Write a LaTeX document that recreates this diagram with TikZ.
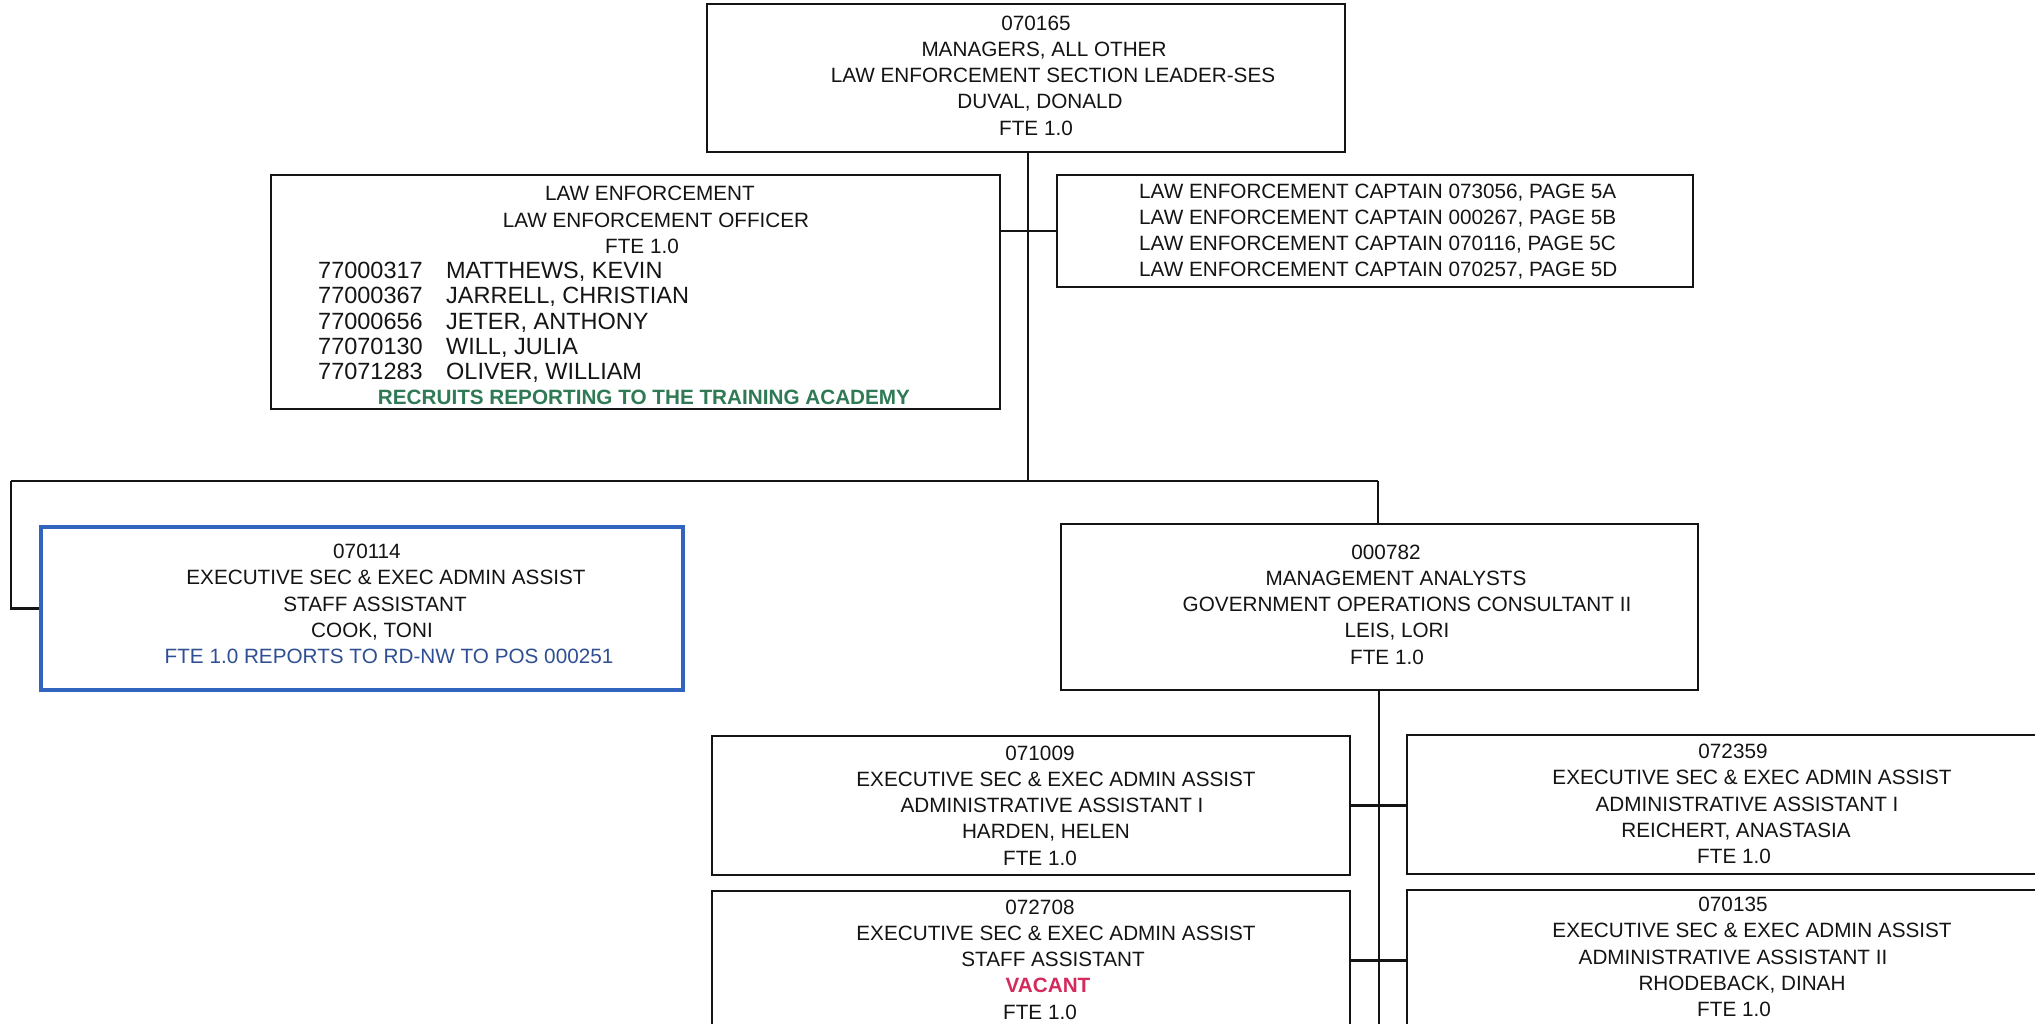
\documentclass[tikz,border=0pt]{standalone}
\usepackage{fontspec}
\setmainfont{Liberation Sans}

\definecolor{ink}{HTML}{141414}
\definecolor{boxblue}{HTML}{3064BE}
\definecolor{noteblue}{HTML}{2F4F93}
\definecolor{recruitgreen}{HTML}{2F7A55}
\definecolor{vacantred}{HTML}{D42A5C}

% nudge a centred line sideways (half the given amount)
\newcommand{\nudgeline}[1]{\hspace*{#1pt}}

\begin{document}
\begin{tikzpicture}[x=1pt,y=-1pt,
  posbox/.style={draw=ink, line width=2.3pt, inner sep=0pt},
  textblock/.style={inner sep=0pt, align=center, text=ink,
    font=\fontsize{20.7pt}{26.3pt}\selectfont},
  leftblock/.style={inner sep=0pt, align=left, anchor=west, text=ink,
    font=\fontsize{20.7pt}{26pt}\selectfont},
  link/.style={draw=ink, line width=2.2pt}]

\useasboundingbox (0,0) rectangle (2035,1024);
\fill[white] (0,0) rectangle (2035,1024);
\clip (0,0) rectangle (2035,1024);

% ---- section leader ----
\node[posbox, minimum width=638pt, minimum height=148pt] (top) at (1026,78) {};
\node[textblock] (top-t) at (1040,75.5)
  {\nudgeline{-8}070165\\ \nudgeline{8}MANAGERS, ALL OTHER\\
   \nudgeline{26}LAW ENFORCEMENT SECTION LEADER-SES\\ DUVAL, DONALD\\ \nudgeline{-8}FTE 1.0};

% ---- law enforcement officers ----
\node[posbox, minimum width=729pt, minimum height=234pt] (officer) at (635.5,292) {};
\node[textblock] (officer-head) at (650,220)
  {LAW ENFORCEMENT\\ \nudgeline{12}LAW ENFORCEMENT OFFICER\\ \nudgeline{-16}FTE 1.0};
\node[inner sep=0pt, align=left, anchor=west, text=ink,
      font=\fontsize{23.5pt}{25.25pt}\selectfont] (officer-names) at (318,322.5)
  {\makebox[128pt][l]{77000317}MATTHEWS, KEVIN\\
   \makebox[128pt][l]{77000367}JARRELL, CHRISTIAN\\
   \makebox[128pt][l]{77000656}JETER, ANTHONY\\
   \makebox[128pt][l]{77070130}WILL, JULIA\\
   \makebox[128pt][l]{77071283}OLIVER, WILLIAM};
\node[inner sep=0pt, text=recruitgreen,
      font=\fontsize{20.7pt}{26pt}\selectfont\bfseries] (officer-note) at (644,397)
  {RECRUITS REPORTING TO THE TRAINING ACADEMY};

% ---- captains ----
\node[posbox, minimum width=636pt, minimum height=112pt] (captain) at (1375,231) {};
\node[leftblock] (captain-t) at (1139,232)
  {LAW ENFORCEMENT CAPTAIN 073056, PAGE 5A\\
   LAW ENFORCEMENT CAPTAIN 000267, PAGE 5B\\
   LAW ENFORCEMENT CAPTAIN 070116, PAGE 5C\\
   LAW ENFORCEMENT CAPTAIN 070257, PAGE 5D};

% ---- staff assistant (reports elsewhere) ----
\node[posbox, draw=boxblue, line width=3.5pt, minimum width=642pt, minimum height=163pt]
  (pos070114) at (362,608.5) {};
\node[textblock] (pos070114-t) at (375,604)
  {\nudgeline{-16}070114\\ \nudgeline{22}EXECUTIVE SEC \& EXEC ADMIN ASSIST\\ STAFF ASSISTANT\\
   \nudgeline{-6}COOK, TONI\\ \nudgeline{28}\textcolor{noteblue}{FTE 1.0 REPORTS TO RD-NW TO POS 000251}};

% ---- management analyst ----
\node[posbox, minimum width=637pt, minimum height=166pt] (pos000782) at (1379.5,607) {};
\node[textblock] (pos000782-t) at (1396,604.5)
  {\nudgeline{-20}000782\\ MANAGEMENT ANALYSTS\\ \nudgeline{22}GOVERNMENT OPERATIONS CONSULTANT II\\
   \nudgeline{2}LEIS, LORI\\ \nudgeline{-18}FTE 1.0};

% ---- administrative staff ----
\node[posbox, minimum width=638pt, minimum height=139pt] (pos071009) at (1031,805.5) {};
\node[textblock] (pos071009-t) at (1046,805.5)
  {\nudgeline{-12}071009\\ \nudgeline{20}EXECUTIVE SEC \& EXEC ADMIN ASSIST\\
   \nudgeline{12}ADMINISTRATIVE ASSISTANT I\\ HARDEN, HELEN\\ \nudgeline{-12}FTE 1.0};

\node[posbox, minimum width=638pt, minimum height=139pt] (pos072708) at (1031,960.5) {};
\node[textblock] (pos072708-t) at (1048,959.5)
  {\nudgeline{-16}072708\\ \nudgeline{16}EXECUTIVE SEC \& EXEC ADMIN ASSIST\\
   \nudgeline{10}STAFF ASSISTANT\\ \textcolor{vacantred}{\bfseries VACANT}\\ \nudgeline{-16}FTE 1.0};

\node[posbox, minimum width=638pt, minimum height=139pt] (pos072359) at (1726,804.5) {};
\node[textblock] (pos072359-t) at (1740,804)
  {\nudgeline{-14}072359\\ \nudgeline{24}EXECUTIVE SEC \& EXEC ADMIN ASSIST\\
   \nudgeline{14}ADMINISTRATIVE ASSISTANT I\\ \nudgeline{-8}REICHERT, ANASTASIA\\ \nudgeline{-12}FTE 1.0};

\node[posbox, minimum width=638pt, minimum height=139pt] (pos070135) at (1726,959.5) {};
\node[textblock] (pos070135-t) at (1740,957)
  {\nudgeline{-14}070135\\ \nudgeline{24}EXECUTIVE SEC \& EXEC ADMIN ASSIST\\
   \nudgeline{-14}ADMINISTRATIVE ASSISTANT II\\ \nudgeline{4}RHODEBACK, DINAH\\ \nudgeline{-12}FTE 1.0};

% ---- connectors ----
\coordinate (trunk) at (1028,481);
\coordinate (busL) at (11,481);
\coordinate (busR) at (1378,481);
\coordinate (spine) at (1379,1030);

\draw[link] (top.south -| trunk) -- (trunk);
\draw[link] (officer.east |- captain.west) -- (captain.west);
\draw[link] (busL) -- (busR);
\draw[link] (busL) |- (pos070114.west);
\draw[link] (busR) -- (busR |- pos000782.north);
\draw[link] (spine |- pos000782.south) -- (spine);
\draw[link] (pos071009.east) -- (pos071009.east -| pos072359.west);
\draw[link] (pos072708.east) -- (pos072708.east -| pos070135.west);
\end{tikzpicture}
\end{document}
